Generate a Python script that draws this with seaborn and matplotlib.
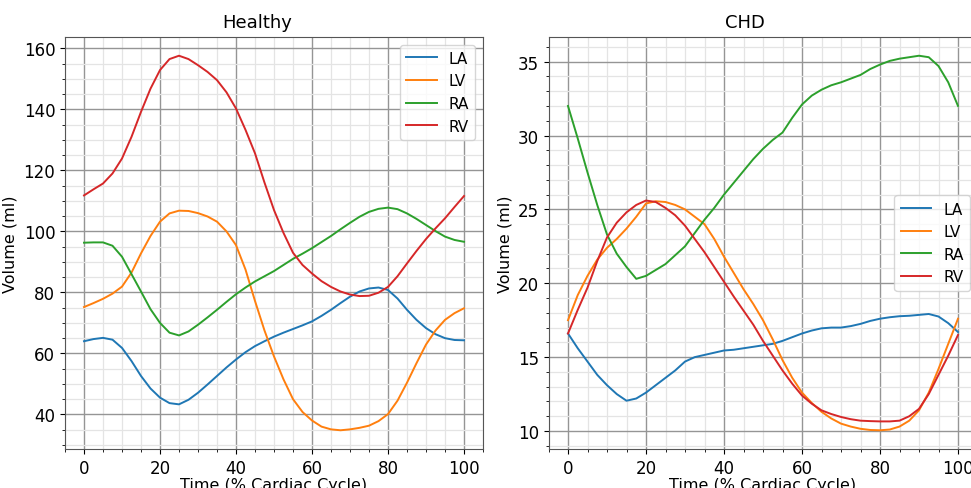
import numpy as np
import pandas as pd
import matplotlib
matplotlib.use("Agg")
import matplotlib.pyplot as plt
import seaborn as sns
from matplotlib.ticker import MultipleLocator

time_pct = [0, 2.5, 5, 7.5, 10, 12.5, 15, 17.5, 20, 22.5, 25, 27.5, 30, 32.5, 35, 37.5, 40,
            42.5, 45, 47.5, 50, 52.5, 55, 57.5, 60, 62.5, 65, 67.5, 70, 72.5, 75, 77.5, 80,
            82.5, 85, 87.5, 90, 92.5, 95, 97.5, 100]
chambers = ["LA", "LV", "RA", "RV"]

healthy_la = [64.0, 64.7, 65.1, 64.5, 61.8, 57.5, 52.6, 48.5, 45.5, 43.7, 43.3, 44.8, 47.1, 49.8,
              52.6, 55.4, 58.0, 60.4, 62.4, 64.0, 65.5, 66.8, 68.0, 69.2, 70.5, 72.3, 74.3, 76.5,
              78.6, 80.3, 81.3, 81.6, 80.8, 78.0, 74.3, 71.0, 68.3, 66.3, 65.0, 64.4, 64.3]
healthy_lv = [75.2, 76.5, 77.9, 79.6, 81.9, 86.5, 92.8, 98.5, 103.2, 105.9, 106.8, 106.7, 106.0,
              104.9, 103.2, 100.0, 95.5, 87.5, 77.2, 67.5, 59.0, 51.5, 45.0, 40.8, 38.0, 36.0,
              35.1, 34.8, 35.1, 35.6, 36.3, 37.8, 40.1, 44.5, 50.4, 56.8, 62.9, 67.5, 71.0, 73.2, 74.8]
healthy_ra = [96.3, 96.4, 96.4, 95.3, 91.7, 86.0, 80.3, 74.5, 70.0, 66.8, 65.9, 67.2, 69.4, 71.8,
              74.3, 76.9, 79.4, 81.6, 83.6, 85.3, 87.0, 89.0, 91.0, 92.7, 94.5, 96.5, 98.5, 100.7,
              102.8, 104.8, 106.4, 107.4, 107.8, 107.3, 105.9, 104.1, 102.1, 100.1, 98.3, 97.2, 96.6]
healthy_rv = [111.8, 113.8, 115.7, 119.0, 123.9, 131.0, 139.2, 146.8, 152.9, 156.5, 157.6, 156.5,
              154.5, 152.3, 149.6, 145.6, 140.3, 133.3, 125.6, 116.0, 107.0, 99.5, 93.0, 89.0,
              86.2, 83.7, 81.8, 80.3, 79.3, 78.8, 78.9, 79.9, 81.8, 85.3, 89.5, 93.6, 97.5, 101.0,
              104.3, 108.0, 111.6]

chd_la = [16.6, 15.6, 14.7, 13.8, 13.1, 12.5, 12.05, 12.2, 12.6, 13.1, 13.6, 14.1, 14.7, 15.0,
          15.15, 15.3, 15.45, 15.5, 15.6, 15.7, 15.8, 15.9, 16.1, 16.35, 16.6, 16.8, 16.95, 17.0,
          17.0, 17.1, 17.25, 17.45, 17.6, 17.7, 17.77, 17.8, 17.86, 17.92, 17.75, 17.3, 16.7]
chd_lv = [17.5, 19.2, 20.5, 21.6, 22.4, 23.0, 23.7, 24.5, 25.4, 25.55, 25.5, 25.3, 25.0, 24.5,
          24.0, 23.0, 21.8, 20.7, 19.6, 18.6, 17.5, 16.2, 14.8, 13.6, 12.6, 11.9, 11.3, 10.85,
          10.5, 10.3, 10.15, 10.07, 10.05, 10.1, 10.3, 10.7, 11.4, 12.6, 14.2, 15.9, 17.6]
chd_ra = [32.0, 29.8, 27.5, 25.3, 23.3, 22.0, 21.1, 20.3, 20.5, 20.9, 21.3, 21.9, 22.5, 23.4,
          24.3, 25.1, 26.0, 26.8, 27.6, 28.4, 29.1, 29.7, 30.2, 31.2, 32.1, 32.7, 33.1, 33.4,
          33.6, 33.85, 34.1, 34.5, 34.8, 35.05, 35.2, 35.3, 35.4, 35.3, 34.7, 33.6, 32.0]
chd_rv = [16.6, 18.2, 19.7, 21.5, 23.1, 24.1, 24.8, 25.3, 25.6, 25.5, 25.1, 24.6, 23.9, 23.0,
          22.1, 21.1, 20.1, 19.1, 18.15, 17.2, 16.1, 15.1, 14.1, 13.2, 12.4, 11.85, 11.4, 11.15,
          10.95, 10.8, 10.7, 10.67, 10.65, 10.65, 10.7, 11.0, 11.5, 12.5, 13.8, 15.1, 16.5]


def long_df(series):
    rows = []
    for name, vals in zip(chambers, series):
        for t, v in zip(time_pct, vals):
            rows.append({"Time": t, "Volume": v, "Chamber": name})
    return pd.DataFrame(rows)


df_h = long_df([healthy_la, healthy_lv, healthy_ra, healthy_rv])
df_c = long_df([chd_la, chd_lv, chd_ra, chd_rv])

plt.rcParams["font.family"] = ["DejaVu Sans"]
fig = plt.figure(figsize=(9.71, 4.89), dpi=100)
ax1 = fig.add_axes([65 / 971, 1 - 450 / 489, 418 / 971, 412 / 489])
ax2 = fig.add_axes([548.5 / 971, 1 - 450 / 489, 429 / 971, 412 / 489])

palette = sns.color_palette("tab10", 4)

for ax, df, title, legloc, ymaj, ymin in [
    (ax1, df_h, "Healthy", "upper right", 20, 5),
    (ax2, df_c, "CHD", "center right", 5, 1),
]:
    sns.lineplot(data=df, x="Time", y="Volume", hue="Chamber", palette=palette,
                 linewidth=1.4, ax=ax, sort=False)
    ax.set_title(title, fontsize=13, x=0.459, pad=7)
    ax.set_xlabel("Time (% Cardiac Cycle)", fontsize=11.5, labelpad=0)
    ax.set_ylabel("Volume (ml)", fontsize=11.5)
    ax.tick_params(labelsize=12)
    ax.xaxis.set_major_locator(MultipleLocator(20))
    ax.xaxis.set_minor_locator(MultipleLocator(5))
    ax.yaxis.set_major_locator(MultipleLocator(ymaj))
    ax.yaxis.set_minor_locator(MultipleLocator(ymin))
    ax.grid(which="major", color="#959595", linewidth=1.0)
    ax.grid(which="minor", color="#e4e4e4", linewidth=0.9, linestyle="-")
    ax.set_axisbelow(True)
    for s in ax.spines.values():
        s.set_color("#555555")
    handles, labels = ax.get_legend_handles_labels()
    ax.legend(handles, labels, loc=legloc, fontsize=11)

fig.savefig("out.png", dpi=100)
